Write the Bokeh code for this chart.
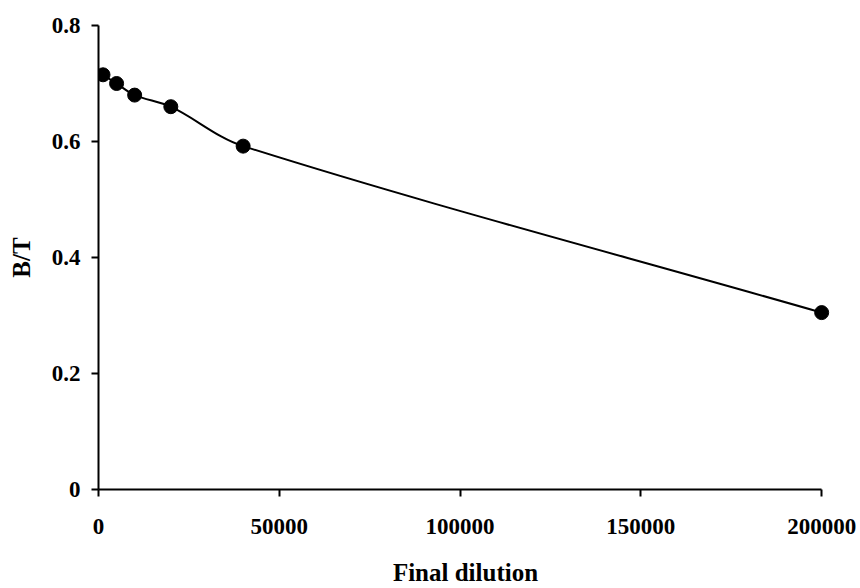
import numpy as np
from bokeh.plotting import figure
from bokeh.models import Range1d, FixedTicker, ColumnDataSource
from bokeh.embed import file_html
from bokeh.resources import INLINE

# Data
dilution = [1250, 5000, 10000, 20000, 40000, 200000]
bt = [0.715, 0.700, 0.680, 0.660, 0.592, 0.305]
x_ticks = [0, 50000, 100000, 150000, 200000]
y_ticks = [0, 0.2, 0.4, 0.6, 0.8]

FONT = "Liberation Serif"
X0, X1 = 0, 203000
Y0, Y1 = 0, 0.8
FRAME_W, FRAME_H = 734, 464

p = figure(width=860, height=588, output_backend="svg", toolbar_location=None,
           x_range=Range1d(X0, X1), y_range=Range1d(Y0, Y1),
           min_border_left=98, min_border_right=28, min_border_top=25, min_border_bottom=99)
p.outline_line_color = None
p.xgrid.visible = False
p.ygrid.visible = False
p.background_fill_color = "white"
p.border_fill_color = "white"

# Smoothed line: Bezier segments, tangent from neighbours, handle length = chord/3
# (computed in screen-proportional units so the curve shape matches the picture)
kx = FRAME_W / (X1 - X0)
ky = FRAME_H / (Y1 - Y0)
P = np.column_stack([np.array(dilution, float) * kx, np.array(bt, float) * ky])
n = len(P)
T = np.zeros_like(P)
for i in range(n):
    a = P[max(i - 1, 0)]
    b = P[min(i + 1, n - 1)]
    d = b - a
    T[i] = d / np.linalg.norm(d)
seg = dict(x0=[], y0=[], x1=[], y1=[], cx0=[], cy0=[], cx1=[], cy1=[])
for i in range(n - 1):
    L = np.linalg.norm(P[i + 1] - P[i]) / 3
    c0 = P[i] + T[i] * L
    c1 = P[i + 1] - T[i + 1] * L
    seg["x0"].append(P[i][0] / kx); seg["y0"].append(P[i][1] / ky)
    seg["x1"].append(P[i + 1][0] / kx); seg["y1"].append(P[i + 1][1] / ky)
    seg["cx0"].append(c0[0] / kx); seg["cy0"].append(c0[1] / ky)
    seg["cx1"].append(c1[0] / kx); seg["cy1"].append(c1[1] / ky)
p.bezier(x0="x0", y0="y0", x1="x1", y1="y1", cx0="cx0", cy0="cy0", cx1="cx1", cy1="cy1",
         source=ColumnDataSource(seg), line_color="black", line_width=2)

p.scatter(dilution, bt, size=14, marker="circle", fill_color="black", line_color="black")

# Axes styling
for ax in (p.xaxis[0], p.yaxis[0]):
    ax.axis_line_color = "black"
    ax.axis_line_width = 2
    ax.major_tick_line_color = "black"
    ax.major_tick_line_width = 2
    ax.major_tick_in = 0
    ax.major_tick_out = 7
    ax.minor_tick_line_color = None
    ax.major_label_text_font = FONT
    ax.major_label_text_font_style = "bold"
    ax.major_label_text_font_size = "23px"
    ax.major_label_text_color = "black"
    ax.axis_label_text_font = FONT
    ax.axis_label_text_font_style = "bold"
    ax.axis_label_text_font_size = "25px"
    ax.axis_label_text_color = "black"

p.xaxis.ticker = FixedTicker(ticks=x_ticks)
p.yaxis.ticker = FixedTicker(ticks=y_ticks)
p.xaxis.bounds = (0, 200000)
p.yaxis.bounds = (0, 0.8)
p.xaxis.major_label_overrides = {t: str(t) for t in x_ticks}
p.yaxis.major_label_overrides = {t: ("0" if t == 0 else f"{t:.1f}") for t in y_ticks}
p.xaxis.axis_label = "Final dilution"
p.yaxis.axis_label = "B/T"
p.xaxis.major_label_standoff = 22
p.yaxis.major_label_standoff = 11
p.xaxis.axis_label_standoff = 22
p.yaxis.axis_label_standoff = 14

open("out.html", "w").write(file_html(p, INLINE))
